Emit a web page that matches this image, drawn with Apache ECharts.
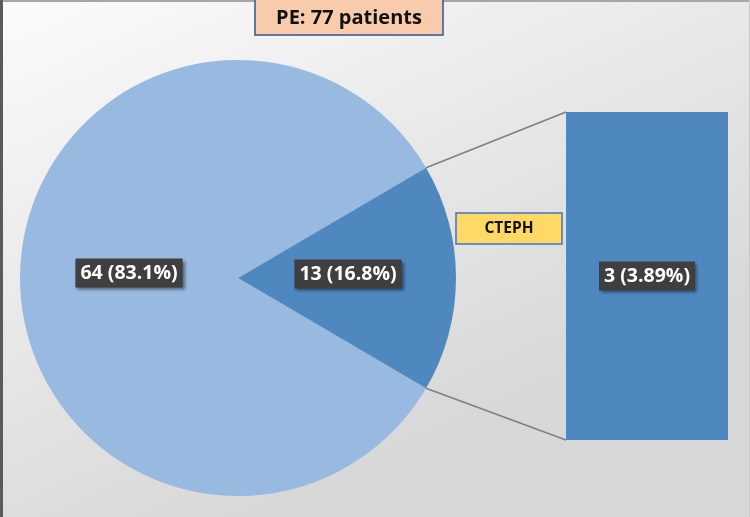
<!DOCTYPE html>
<html><head><meta charset="utf-8">
<script src="https://cdn.jsdelivr.net/npm/echarts@6/dist/echarts.min.js"></script>
<style>html,body{margin:0;padding:0;background:#fff;}#c{width:750px;height:517px;}</style>
</head><body><div id="c"></div>
<script>
const titleText = 'PE: 77 patients';
const pieNames = ['No CTEPH', 'CTEPH suspected'];
const pieValues = [64, 13];
const pieLabels = ['64 (83.1%)', '13 (16.8%)'];
const barCategories = ['CTEPH'];
const barValues = [3];
const barLabels = ['3 (3.89%)'];
const barTitle = 'CTEPH';

const total = pieValues.reduce((a, b) => a + b, 0);
const smallAngle = 360 * pieValues[1] / total;
const startAngle = 360 - smallAngle / 2;
const pieCenter = [238, 278];
const pieRadius = 218;
const colLight = '#98B9E0';
const colDark = '#4F88BF';
const font = '"Open Sans", Lato, sans-serif';
const pieLabelOffsets = [[3, -5], [-2, -4]];

const labelStyle = {
  show: true,
  color: '#ffffff',
  fontFamily: font,
  fontWeight: 'bold',
  fontSize: 19.5,
  lineHeight: 22,
  backgroundColor: '#3f3f3f',
  padding: [4, 5, 3, 5],
  shadowColor: 'rgba(0,0,0,0.45)',
  shadowBlur: 3,
  shadowOffsetX: 2,
  shadowOffsetY: 2
};

const chart = echarts.init(document.getElementById('c'), null, {renderer: 'canvas'});
chart.setOption({
  animation: false,
  backgroundColor: {
    type: 'linear', x: 0, y: 0, x2: 0.3, y2: 1,
    colorStops: [{offset: 0, color: '#fbfbfb'}, {offset: 1, color: '#d8d8d8'}]
  },
  grid: {left: 566, width: 162, top: 112, bottom: 77},
  xAxis: {type: 'category', data: barCategories, show: false},
  yAxis: {type: 'value', min: 0, max: barValues[0], show: false},
  series: [
    {
      type: 'pie',
      center: pieCenter,
      radius: pieRadius,
      startAngle: startAngle,
      clockwise: true,
      silent: true,
      data: pieNames.map((n, i) => ({
        name: n, value: pieValues[i],
        itemStyle: {color: i === 0 ? colLight : colDark},
        label: Object.assign({}, labelStyle, {position: 'inside', formatter: pieLabels[i], offset: pieLabelOffsets[i]})
      })),
      labelLine: {show: false},
      emphasis: {disabled: true}
    },
    {
      type: 'bar',
      barWidth: '100%',
      silent: true,
      data: barValues.map((v, i) => ({
        value: v,
        itemStyle: {color: colDark},
        label: Object.assign({}, labelStyle, {position: 'inside', formatter: barLabels[i]})
      }))
    }
  ]
});

// connector lines from slice edges to bar corners
const a = smallAngle / 2 * Math.PI / 180;
const p1 = [pieCenter[0] + pieRadius * Math.cos(a), pieCenter[1] - pieRadius * Math.sin(a)];
const p2 = [pieCenter[0] + pieRadius * Math.cos(a), pieCenter[1] + pieRadius * Math.sin(a)];
const topPx = chart.convertToPixel({xAxisIndex: 0, yAxisIndex: 0}, [0, barValues[0]]);
const botPx = chart.convertToPixel({xAxisIndex: 0, yAxisIndex: 0}, [0, 0]);
const barLeft = 566;

chart.setOption({
  graphic: [
    {type: 'line', shape: {x1: p1[0], y1: p1[1], x2: barLeft, y2: topPx[1]}, style: {stroke: '#7f7f7f', lineWidth: 1.5}, z: 100},
    {type: 'line', shape: {x1: p2[0], y1: p2[1], x2: barLeft, y2: botPx[1]}, style: {stroke: '#7f7f7f', lineWidth: 1.5}, z: 100},
    {type: 'rect', shape: {x: 255, y: -2, width: 188, height: 37}, style: {fill: '#F8CBAD', stroke: '#2F5597', lineWidth: 1.5}, z: 100},
    {type: 'text', x: 349, y: 18, style: {text: titleText, fill: '#111', font: 'bold 20px ' + font, align: 'center', verticalAlign: 'middle'}, z: 101},
    {type: 'rect', shape: {x: 456, y: 213, width: 106, height: 31}, style: {fill: '#FFD966', stroke: '#4472C4', lineWidth: 1.5}, z: 100},
    {type: 'text', x: 509, y: 229, style: {text: barTitle, fill: '#111', font: 'bold 15.5px ' + font, align: 'center', verticalAlign: 'middle'}, z: 101},
    {type: 'line', shape: {x1: 1.5, y1: 0, x2: 1.5, y2: 517}, style: {stroke: '#5a5a5a', lineWidth: 3}, z: 100},
    {type: 'line', shape: {x1: 0, y1: 1, x2: 750, y2: 1}, style: {stroke: '#a6a6a6', lineWidth: 2}, z: 99},
    {type: 'line', shape: {x1: 749.5, y1: 0, x2: 749.5, y2: 517}, style: {stroke: '#c8c8c8', lineWidth: 1}, z: 99}
  ]
});
</script>
</body></html>
